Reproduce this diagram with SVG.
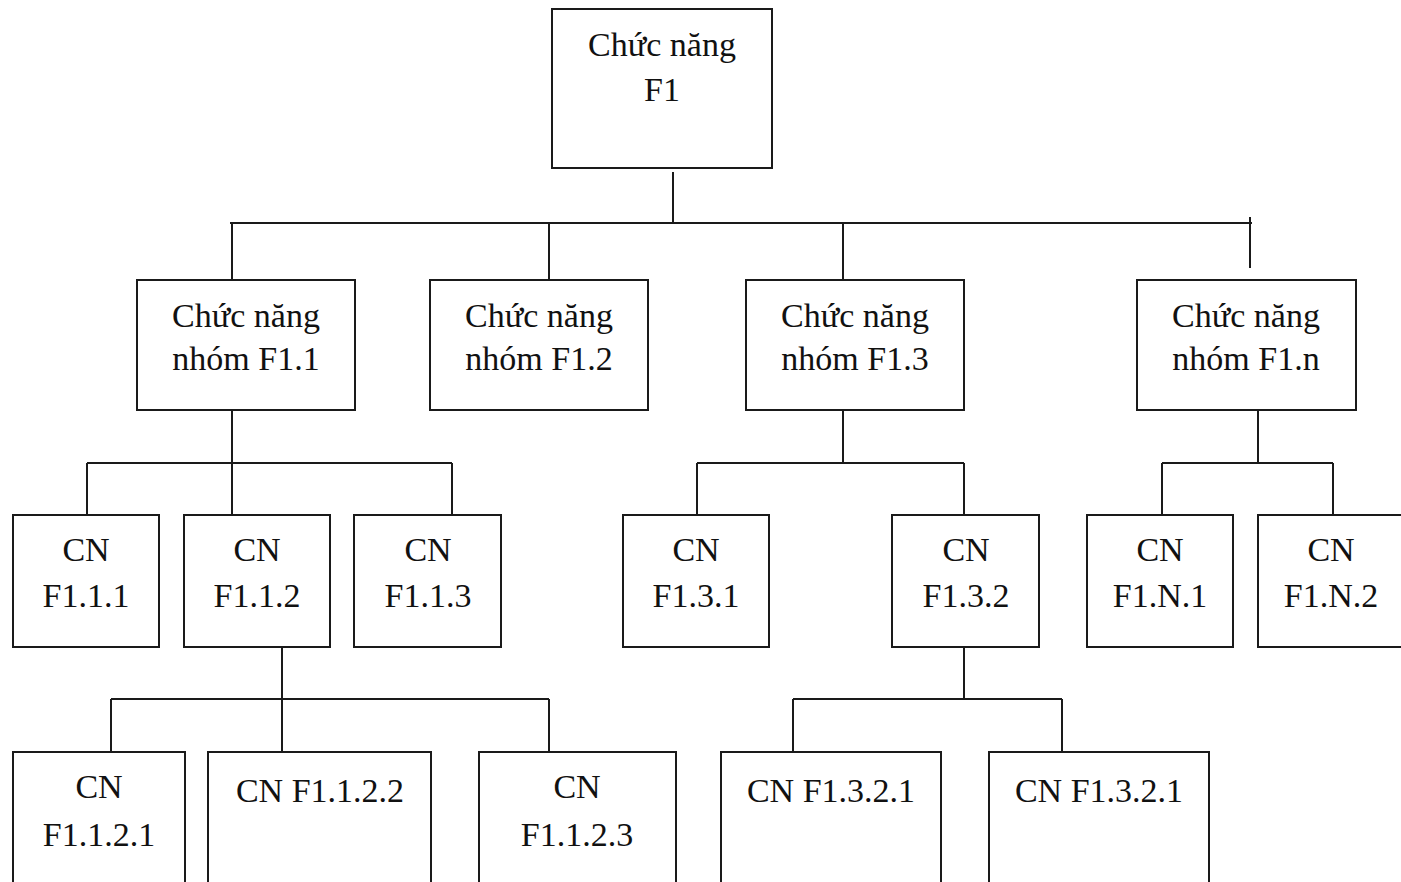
<svg xmlns="http://www.w3.org/2000/svg" width="1401" height="882" viewBox="0 0 1401 882">
  <style>
    .box { fill: #ffffff; stroke: #1a1a1a; stroke-width: 2; }
    .wire { fill: none; stroke: #1a1a1a; stroke-width: 2; }
    text { font-family: "Liberation Serif", "Times New Roman", serif; font-size: 34px; fill: #111111; text-anchor: middle; }
  </style>
  <rect width="1401" height="882" fill="#ffffff"/>

  <!-- tree connectors -->
  <g id="connectors" class="wire">
    <path d="M673 172 V223"/>
    <path d="M230 223 H1252"/>
    <path d="M232 223 V280 M549 223 V280 M843 223 V280 M1250 217 V268"/>
    <!-- F1.1 children -->
    <path d="M232 410 V515 M87 463 H452 M87 463 V515 M452 463 V515"/>
    <!-- F1.3 children -->
    <path d="M843 410 V463 M697 463 H964 M697 463 V515 M964 463 V515"/>
    <!-- F1.n children -->
    <path d="M1258 410 V463 M1162 463 H1333 M1162 463 V515 M1333 463 V515"/>
    <!-- F1.1.2 children -->
    <path d="M282 647 V752 M111 699 H549 M111 699 V752 M549 699 V752"/>
    <!-- F1.3.2 children -->
    <path d="M964 647 V699 M793 699 H1062 M793 699 V752 M1062 699 V752"/>
  </g>

  <!-- root -->
  <g id="f1">
    <rect class="box" x="552" y="9" width="220" height="159"/>
    <text x="662" y="56">Chức năng</text>
    <text x="662" y="101">F1</text>
  </g>

  <!-- group level -->
  <g id="f1-1">
    <rect class="box" x="137" y="280" width="218" height="130"/>
    <text x="246" y="327">Chức năng</text>
    <text x="246" y="370">nhóm F1.1</text>
  </g>
  <g id="f1-2">
    <rect class="box" x="430" y="280" width="218" height="130"/>
    <text x="539" y="327">Chức năng</text>
    <text x="539" y="370">nhóm F1.2</text>
  </g>
  <g id="f1-3">
    <rect class="box" x="746" y="280" width="218" height="130"/>
    <text x="855" y="327">Chức năng</text>
    <text x="855" y="370">nhóm F1.3</text>
  </g>
  <g id="f1-n">
    <rect class="box" x="1137" y="280" width="219" height="130"/>
    <text x="1246" y="327">Chức năng</text>
    <text x="1246" y="370">nhóm F1.n</text>
  </g>

  <!-- function level -->
  <g id="f1-1-1">
    <rect class="box" x="13" y="515" width="146" height="132"/>
    <text x="86" y="561">CN</text>
    <text x="86" y="607">F1.1.1</text>
  </g>
  <g id="f1-1-2">
    <rect class="box" x="184" y="515" width="146" height="132"/>
    <text x="257" y="561">CN</text>
    <text x="257" y="607">F1.1.2</text>
  </g>
  <g id="f1-1-3">
    <rect class="box" x="354" y="515" width="147" height="132"/>
    <text x="428" y="561">CN</text>
    <text x="428" y="607">F1.1.3</text>
  </g>
  <g id="f1-3-1">
    <rect class="box" x="623" y="515" width="146" height="132"/>
    <text x="696" y="561">CN</text>
    <text x="696" y="607">F1.3.1</text>
  </g>
  <g id="f1-3-2">
    <rect class="box" x="892" y="515" width="147" height="132"/>
    <text x="966" y="561">CN</text>
    <text x="966" y="607">F1.3.2</text>
  </g>
  <g id="f1-n-1">
    <rect class="box" x="1087" y="515" width="146" height="132"/>
    <text x="1160" y="561">CN</text>
    <text x="1160" y="607">F1.N.1</text>
  </g>
  <g id="f1-n-2">
    <rect class="box" x="1258" y="515" width="160" height="132"/>
    <text x="1331" y="561">CN</text>
    <text x="1331" y="607">F1.N.2</text>
  </g>

  <!-- sub-function level -->
  <g id="f1-1-2-1">
    <rect class="box" x="13" y="752" width="172" height="150"/>
    <text x="99" y="798">CN</text>
    <text x="99" y="846">F1.1.2.1</text>
  </g>
  <g id="f1-1-2-2">
    <rect class="box" x="208" y="752" width="223" height="150"/>
    <text x="320" y="802">CN F1.1.2.2</text>
  </g>
  <g id="f1-1-2-3">
    <rect class="box" x="479" y="752" width="197" height="150"/>
    <text x="577" y="798">CN</text>
    <text x="577" y="846">F1.1.2.3</text>
  </g>
  <g id="f1-3-2-1a">
    <rect class="box" x="721" y="752" width="220" height="150"/>
    <text x="831" y="802">CN F1.3.2.1</text>
  </g>
  <g id="f1-3-2-1b">
    <rect class="box" x="989" y="752" width="220" height="150"/>
    <text x="1099" y="802">CN F1.3.2.1</text>
  </g>
</svg>
